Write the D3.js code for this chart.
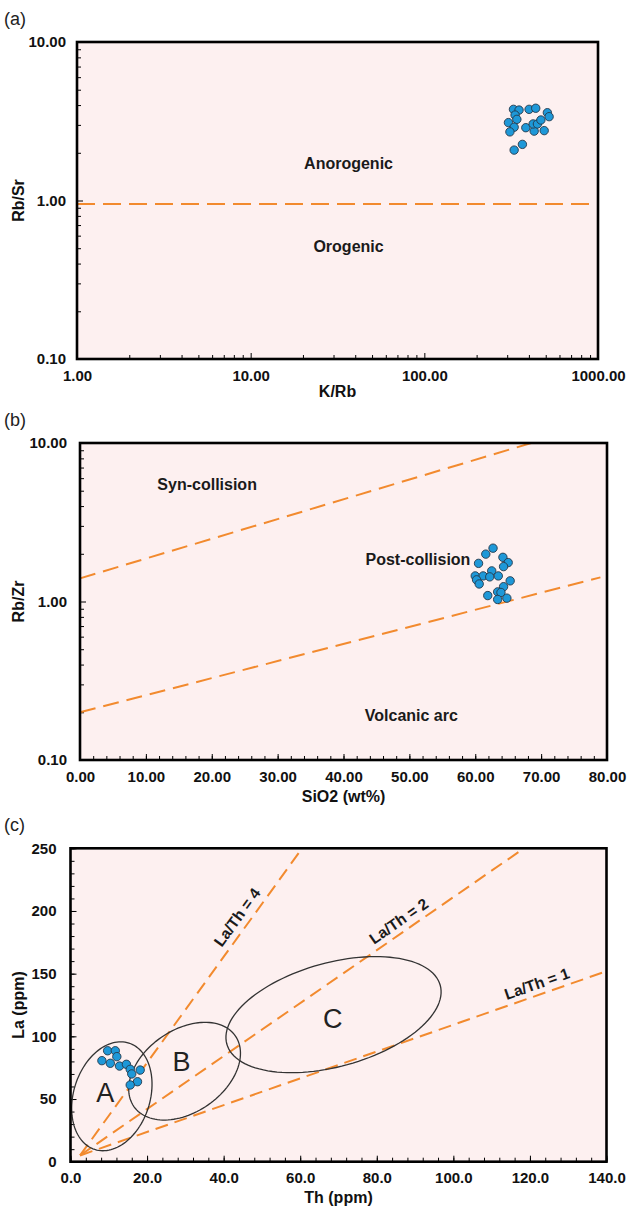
<!DOCTYPE html>
<html>
<head>
<meta charset="utf-8">
<script src="https://cdn.jsdelivr.net/npm/d3@7"></script>
<style>
  body { margin: 0; background: #fff; }
  text { font-family: "Liberation Sans", Arial, sans-serif; }
</style>
</head>
<body>
<svg id="chart" width="630" height="1209"></svg>
<script>
// ---- panel (a) data: K/Rb vs Rb/Sr
const kRb  = [326, 351, 401, 438, 511, 523, 333, 341, 305, 329, 311, 384, 429, 423, 448, 469, 490, 367, 329];
const rbSr = [3.76, 3.72, 3.76, 3.82, 3.58, 3.38, 3.46, 3.25, 3.10, 2.90, 2.71, 2.88, 2.74, 3.04, 3.04, 3.22, 2.76, 2.26, 2.08];
const orogenicLine = [[1, 0.95], [1000, 0.95]];
const regionsA = [{ text: "Anorogenic", at: [36.6, 1.72] }, { text: "Orogenic", at: [36.6, 0.516] }];

// ---- panel (b) data: SiO2 vs Rb/Zr
const sio2 = [62.7, 61.6, 60.5, 64.2, 65.0, 64.3, 62.5, 60.0, 61.2, 62.2, 63.5, 60.2, 60.6, 65.3, 64.3, 63.4, 63.9, 61.9, 64.8, 63.4];
const rbZr = [2.17, 1.99, 1.74, 1.90, 1.76, 1.66, 1.56, 1.45, 1.45, 1.43, 1.45, 1.37, 1.29, 1.35, 1.24, 1.15, 1.14, 1.09, 1.05, 1.03];
const synLine = [[0, 1.4], [68.5, 10]];
const arcLine = [[0, 0.2], [79, 1.42]];
const regionsB = [
  { text: "Syn-collision", at: [19.3, 5.5] },
  { text: "Post-collision", at: [51.3, 1.85] },
  { text: "Volcanic arc", at: [50.3, 0.19] }
];

// ---- panel (c) data: Th vs La
const th = [9.7, 11.7, 8.2, 10.4, 12.1, 12.8, 14.6, 15.6, 16.0, 18.2, 17.5, 15.6];
const la = [88.5, 88.5, 80.6, 78.5, 83.8, 76.3, 77.7, 73.7, 70.0, 73.1, 63.8, 61.2];
const ratioLines = [
  { text: "La/Th = 4", from: [2.5, 5], to: [60.5, 250], at: [43.5, 195] },
  { text: "La/Th = 2", from: [2.5, 5], to: [117.5, 248], at: [85.7, 192] },
  { text: "La/Th = 1", from: [2.5, 5], to: [140, 152], at: [121.8, 142] }
];
// fields: centre, two conjugate semi-axes (data units), label point
const fields = [
  { name: "A", center: [10.8, 52.2], u: [4.46, 42.45], v: [9.5, -9.32], at: [9.1, 55.4] },
  { name: "B", center: [29.8, 72.2], u: [13.24, 28.21], v: [6.14, -26.89], at: [29.0, 79.8] },
  { name: "C", center: [68.7, 117.3], u: [27.87, 23.45], v: [3.6, -39.92], at: [68.5, 114.4] }
];

const svg = d3.select("#chart");
const orange = "#f28a2e", bg = "#fdf0f0", dotFill = "#1e98d8", dotStroke = "#24384a";

function logMinors(lo, hi) {
  const out = [];
  for (let d = lo; d < hi; d *= 10)
    for (let k = 2; k <= 9; k++) out.push(d * k);
  return out;
}

function styleAxis(g, size) {
  g.select(".domain").remove();
  g.selectAll("line").attr("stroke", "#000").attr("stroke-width", 1);
  g.selectAll("text")
    .attr("font-family", "'Liberation Sans', Arial, sans-serif")
    .attr("font-weight", "bold")
    .attr("font-size", size)
    .attr("fill", "#111");
}

// generic frame + axes
function panel(cfg) {
  const g = svg.append("g");
  const [x0, x1] = cfg.x.range(), [y0, y1] = cfg.y.range();

  g.append("rect")
    .attr("x", x0).attr("y", y1)
    .attr("width", x1 - x0).attr("height", y0 - y1)
    .attr("fill", bg);

  // minor ticks inside
  g.append("g").attr("transform", `translate(0,${y0})`)
    .call(d3.axisBottom(cfg.x).tickValues(cfg.xMinor).tickSize(-4).tickFormat(""))
    .call(a => styleAxis(a, 15));
  g.append("g").attr("transform", `translate(${x0},0)`)
    .call(d3.axisLeft(cfg.y).tickValues(cfg.yMinor).tickSize(-4).tickFormat(""))
    .call(a => styleAxis(a, 15));

  // labelled ticks
  g.append("g").attr("transform", `translate(0,${y0})`)
    .call(d3.axisBottom(cfg.x).tickValues(cfg.xTicks).tickSize(-6).tickPadding(11).tickFormat(cfg.xFmt))
    .call(a => styleAxis(a, 15));
  g.append("g").attr("transform", `translate(${x0},0)`)
    .call(d3.axisLeft(cfg.y).tickValues(cfg.yTicks).tickSize(-6).tickPadding(cfg.yPad).tickFormat(cfg.yFmt))
    .call(a => styleAxis(a, 15));

  // titles
  g.append("text")
    .attr("x", (x0 + x1) / 2).attr("y", y0 + cfg.xTitleDy)
    .attr("text-anchor", "middle")
    .attr("font-weight", "bold").attr("font-size", 16).attr("fill", "#111")
    .text(cfg.xTitle);
  g.append("text")
    .attr("transform", `translate(24,${(y0 + y1) / 2}) rotate(-90)`)
    .attr("text-anchor", "middle")
    .attr("font-weight", "bold").attr("font-size", 16).attr("fill", "#111")
    .text(cfg.yTitle);
  g.append("text")
    .attr("x", 4).attr("y", y1 - 17)
    .attr("font-size", 18).attr("fill", "#222")
    .text(cfg.tag);

  const plot = g.append("g");
  // frame on top
  g.append("rect")
    .attr("x", x0).attr("y", y1)
    .attr("width", x1 - x0).attr("height", y0 - y1)
    .attr("fill", "none").attr("stroke", "#000").attr("stroke-width", 2.6);
  return plot;
}

function dashed(plot, x, y, pts, dash) {
  plot.append("path")
    .attr("d", d3.line().x(d => x(d[0])).y(d => y(d[1]))(pts))
    .attr("fill", "none").attr("stroke", orange)
    .attr("stroke-width", 2).attr("stroke-dasharray", dash);
}

function dots(plot, x, y, xs, ys) {
  plot.selectAll(null).data(xs.map((v, i) => [v, ys[i]])).enter()
    .append("circle")
    .attr("cx", d => x(d[0])).attr("cy", d => y(d[1]))
    .attr("r", 4.2)
    .attr("fill", dotFill).attr("stroke", dotStroke).attr("stroke-width", 0.9);
}

function regionText(plot, x, y, list) {
  plot.selectAll(null).data(list).enter()
    .append("text")
    .attr("x", d => x(d.at[0])).attr("y", d => y(d.at[1]))
    .attr("dy", "0.35em").attr("text-anchor", "middle")
    .attr("font-weight", "bold").attr("font-size", 16).attr("fill", "#1a1a1a")
    .text(d => d.text);
}

// ---------- (a)
{
  const x = d3.scaleLog().domain([1, 1000]).range([77, 598]);
  const y = d3.scaleLog().domain([0.1, 10]).range([359, 42]);
  const plot = panel({
    x, y, tag: "(a)", yPad: 11, xTitleDy: 38,
    xTicks: [1, 10, 100, 1000], xMinor: logMinors(1, 1000), xFmt: d3.format(".2f"),
    yTicks: [0.1, 1, 10], yMinor: logMinors(0.1, 10), yFmt: d3.format(".2f"),
    xTitle: "K/Rb", yTitle: "Rb/Sr"
  });
  dashed(plot, x, y, orogenicLine, "18,8");
  regionText(plot, x, y, regionsA);
  dots(plot, x, y, kRb, rbSr);
}

// ---------- (b)
{
  const x = d3.scaleLinear().domain([0, 80]).range([80, 607]);
  const y = d3.scaleLog().domain([0.1, 10]).range([760, 443]);
  const plot = panel({
    x, y, tag: "(b)", yPad: 13, xTitleDy: 42,
    xTicks: d3.range(0, 81, 10), xMinor: d3.range(0, 81, 2), xFmt: d3.format(".2f"),
    yTicks: [0.1, 1, 10], yMinor: logMinors(0.1, 10), yFmt: d3.format(".2f"),
    xTitle: "SiO2 (wt%)", yTitle: "Rb/Zr"
  });
  dashed(plot, x, y, synLine, "16,8");
  dashed(plot, x, y, arcLine, "16,8");
  regionText(plot, x, y, regionsB);
  dots(plot, x, y, sio2, rbZr);
}

// ---------- (c)
{
  const x = d3.scaleLinear().domain([0, 140]).range([70.5, 606.5]);
  const y = d3.scaleLinear().domain([0, 250]).range([1161.7, 848.3]);
  const plot = panel({
    x, y, tag: "(c)", yPad: 14, xTitleDy: 41,
    xTicks: d3.range(0, 141, 20), xMinor: d3.range(0, 141, 4), xFmt: d3.format(".1f"),
    yTicks: d3.range(0, 251, 50), yMinor: d3.range(0, 251, 10), yFmt: d3.format("d"),
    xTitle: "Th (ppm)", yTitle: "La (ppm)"
  });

  ratioLines.forEach(l => dashed(plot, x, y, [l.from, l.to], "13,7"));

  const ellipse = d3.line().x(d => x(d[0])).y(d => y(d[1])).curve(d3.curveLinearClosed);
  fields.forEach(f => {
    const pts = d3.range(0, 360, 3).map(a => {
      const t = a * Math.PI / 180;
      return [f.center[0] + Math.cos(t) * f.u[0] + Math.sin(t) * f.v[0],
              f.center[1] + Math.cos(t) * f.u[1] + Math.sin(t) * f.v[1]];
    });
    plot.append("path").attr("d", ellipse(pts))
      .attr("fill", "none").attr("stroke", "#333").attr("stroke-width", 1.3);
    plot.append("text")
      .attr("x", x(f.at[0])).attr("y", y(f.at[1]))
      .attr("dy", "0.35em").attr("text-anchor", "middle")
      .attr("font-size", 27).attr("fill", "#222")
      .text(f.name);
  });

  ratioLines.forEach(l => {
    const ang = Math.atan2(y(l.to[1]) - y(l.from[1]), x(l.to[0]) - x(l.from[0])) * 180 / Math.PI;
    plot.append("text")
      .attr("transform", `translate(${x(l.at[0])},${y(l.at[1])}) rotate(${ang})`)
      .attr("dy", "0.35em").attr("text-anchor", "middle")
      .attr("font-weight", "bold").attr("font-size", 15.5).attr("fill", "#1a1a1a")
      .text(l.text);
  });

  dots(plot, x, y, th, la);
}
</script>
</body>
</html>
